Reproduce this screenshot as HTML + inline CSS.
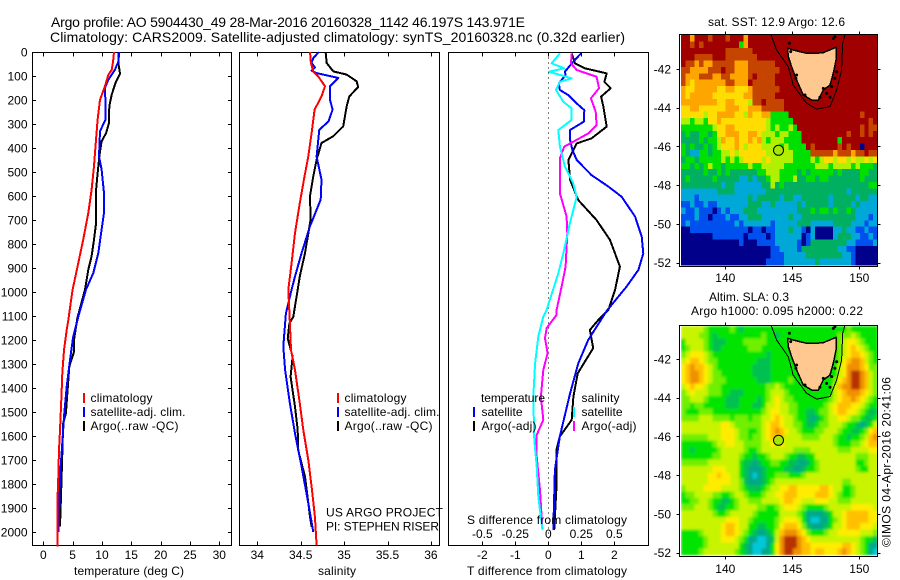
<!DOCTYPE html>
<html>
<head>
<meta charset="utf-8">
<title>Argo profile</title>
<style>
html,body{margin:0;padding:0;background:#fff;}
svg{display:block;font-family:"Liberation Sans",sans-serif;fill:#000;}
text{font-size:12px;}
</style>
</head>
<body>
<svg id="fig" xmlns="http://www.w3.org/2000/svg" width="900" height="580" viewBox="0 0 900 580">
<defs>
<filter id="slaSoften" x="-2%" y="-2%" width="104%" height="104%"><feGaussianBlur stdDeviation="1.3"/></filter>
<clipPath id="slaClip"><rect x="681" y="326" width="196.5" height="229.5"/></clipPath>
</defs>
<text x="51" y="27" style="font-size:14px" textLength="474">Argo profile: AO 5904430_49 28-Mar-2016 20160328_1142 46.197S 143.971E</text>
<text x="50" y="42" style="font-size:14px" textLength="575">Climatology: CARS2009. Satellite-adjusted climatology: synTS_20160328.nc (0.32d earlier)</text>

<g id="marks"></g>

<text x="74" y="575" textLength="110">temperature (deg C)</text>
<text x="318" y="575" textLength="38">salinity</text>
<text x="467" y="575" textLength="160">T difference from climatology</text>
<text x="467" y="524" textLength="160">S difference from climatology</text>

<g>
<rect x="83" y="393" width="2" height="10" fill="#f00"/>
<rect x="83" y="407" width="2" height="10" fill="#00f"/>
<rect x="83" y="421" width="2" height="10" fill="#000"/>
<text x="90.5" y="402" textLength="62">climatology</text>
<text x="90.5" y="416" textLength="95">satellite-adj. clim.</text>
<text x="90.5" y="430" textLength="88">Argo(..raw -QC)</text>
</g>
<g>
<rect x="337" y="393" width="2" height="10" fill="#f00"/>
<rect x="337" y="407" width="2" height="10" fill="#00f"/>
<rect x="337" y="421" width="2" height="10" fill="#000"/>
<text x="344.5" y="402" textLength="62">climatology</text>
<text x="344.5" y="416" textLength="95">satellite-adj. clim.</text>
<text x="344.5" y="430" textLength="88">Argo(..raw -QC)</text>
</g>
<text x="326" y="516.5" textLength="117">US ARGO PROJECT</text>
<text x="326" y="530.5" textLength="113">PI: STEPHEN RISER</text>

<g>
<text x="481" y="402" textLength="64">temperature</text>
<text x="481.5" y="416" textLength="41">satellite</text>
<text x="481.5" y="430" textLength="55">Argo(-adj)</text>
<text x="581.5" y="402" textLength="38">salinity</text>
<text x="581.5" y="416" textLength="41">satellite</text>
<text x="581.5" y="430" textLength="55">Argo(-adj)</text>
<rect x="473" y="407" width="2" height="10" fill="#00f"/>
<rect x="473" y="421" width="2" height="10" fill="#000"/>
<rect x="573" y="407" width="2" height="10" fill="#0ff"/>
<rect x="573" y="421" width="2" height="10" fill="#f0f"/>
</g>

<text x="708" y="26" textLength="137">sat. SST: 12.9 Argo: 12.6</text>
<text x="709" y="301" textLength="80">Altim. SLA: 0.3</text>
<text x="691" y="315" textLength="172">Argo h1000: 0.095 h2000: 0.22</text>
<text transform="translate(890.5,547) rotate(-90)" textLength="170">©IMOS 04-Apr-2016 20:41:06</text>
</svg>

<script>
const depthTicks = [0,100,200,300,400,500,600,700,800,900,1000,1100,1200,1300,1400,1500,1600,1700,1800,1900,2000];
const tempTicks = [0,5,10,15,20,25,30];
const salTicks = [34,34.5,35,35.5,36];
const salTickLabels = ["34","34.5","35","35.5","36"];
const tDiffTicks = [-2,-1,0,1,2];
const sDiffTicks = [-0.5,-0.25,0,0.25,0.5];
const sDiffTickLabels = ["-0.5","-0.25","0","0.25","0.5"];
const lonTicks = [140,145,150];
const latTicks = [42,44,46,48,50,52];

const tempClimDepth = [0,39,74,94,143,199,282,393,476,574,671,782,879,990,1117,1158,1242,1339,1408,1478,1575,1658,1769,1853,2061];
const tempClim = [12.05,11.9,11.65,11.1,10.5,9.66,9.26,8.9,8.64,8.24,7.67,6.8,5.97,5.0,4.26,3.98,3.52,3.24,3.13,3.01,2.84,2.67,2.56,2.44,2.44];
const tempSatDepth = [0,39,74,115,150,213,282,330,435,490,588,671,740,838,921,990,1103,1186,1283,1394,1519,1630,1769,1894,2000];
const tempSat = [12.95,12.8,12.2,11.1,10.5,10.6,10.6,9.66,9.5,9.94,10.34,10.34,9.94,9.38,8.52,7.27,5.97,5.1,4.55,3.98,3.52,3.24,2.84,2.73,2.6];
const tempArgoDepth = [0,46,90,129,178,226,296,338,372,435,518,574,713,782,851,907,990,1110,1200,1249,1311,1506,1547,1811,1978];
const tempArgo = [12.8,12.8,13.07,12.3,11.65,11.25,11.2,10.7,9.94,9.55,9.2,9,9,8.64,8.24,7.67,7.1,5.8,5.23,5.23,4.43,3.86,3.4,3.07,2.84];

const salClimDepth = [0,46,81,101,143,185,240,338,435,532,629,754,879,990,1131,1242,1325,1464,1575,1700,1811,1936,2055];
const salClim = [34.607,34.618,34.645,34.7,34.78,34.74,34.66,34.626,34.587,34.537,34.49,34.434,34.395,34.357,34.376,34.388,34.434,34.49,34.53,34.587,34.626,34.664,34.683];
const salSatDepth = [0,25,46,64,78,88,108,143,199,240,289,324,435,532,615,726,838,935,990,1089,1131,1228,1325,1464,1589,1728,1880,2000];
const salSat = [34.71,34.645,34.626,34.664,34.626,34.683,34.933,34.837,34.837,34.868,34.82,34.714,34.683,34.74,34.73,34.607,34.51,34.434,34.395,34.33,34.32,34.3,34.32,34.376,34.434,34.51,34.587,34.645];
const salArgoDepth = [0,46,81,94,122,146,185,226,310,351,379,449,518,601,699,838,935,990,1103,1131,1193,1269,1353,1478,1575,1658,1769,1936,1978];
const salArgo = [34.787,34.8,34.875,35.03,35.144,35.163,35.06,35.03,34.99,34.875,34.74,34.683,34.645,34.607,34.614,34.55,34.49,34.465,34.415,34.37,34.35,34.407,34.384,34.434,34.465,34.47,34.55,34.607,34.626];

const diffTSatDepth = [6,40,82,96,131,158,179,214,242,290,325,367,408,450,513,561,603,686,769,839,908,978,1075,1089,1200,1297,1422,1602,1741,1991];
const diffTSat = [0.99,0.76,0.5,0.525,0.32,0.35,0.6,0.86,1.09,1.08,0.66,0.66,0.73,0.86,1.31,1.82,2.22,2.63,2.83,2.88,2.73,2.37,1.79,1.72,1.21,0.91,0.66,0.35,0.2,0.15];
const diffTArgoDepth = [6,47,68,89,124,151,186,228,311,360,381,450,533,617,700,783,894,992,1075,1116,1158,1234,1290,1339,1436,1533,1602,1658,1811,1991];
const diffTArgo = [0.71,0.81,1.11,1.77,1.7,1.89,1.6,1.67,1.77,1.31,0.86,0.61,0.66,0.91,1.46,1.87,2.17,2.02,1.82,1.52,1.26,1.36,1.11,0.89,0.76,0.71,0.35,0.25,0.25,0.18];
const diffSSatDepth = [6,47,68,82,110,124,158,207,235,283,325,394,478,547,603,714,839,922,1075,1102,1186,1297,1436,1616,1727,1852,1991];
const diffSSat = [0.088,0.025,0.121,0.005,0.177,0.088,0.058,0.114,0.177,0.177,0.076,0.088,0.126,0.189,0.215,0.164,0.114,0.076,-0.013,-0.038,-0.076,-0.1,-0.114,-0.106,-0.088,-0.076,-0.045];
const diffSArgoDepth = [6,47,75,103,151,193,249,304,339,374,394,443,589,686,756,894,978,1075,1095,1151,1193,1255,1325,1436,1533,1596,1686,1825,1991];
const diffSArgo = [0.177,0.172,0.215,0.366,0.384,0.323,0.359,0.366,0.303,0.189,0.121,0.088,0.088,0.139,0.144,0.131,0.101,0.063,0.063,-0.013,-0.025,-0.005,-0.038,-0.056,-0.038,-0.088,-0.088,-0.063,-0.045];

const coastLon = [144.65,145.07,146.07,146.69,147.31,148.26,148.26,148.06,147.81,147.31,146.94,146.44,145.82,145.32,144.95,144.7];
const coastLat = [40.93,41.02,41.19,41.19,41.16,40.88,41.54,42.22,42.83,43.08,43.6,43.6,43.34,42.57,41.88,41.36];
const shelfLon = [143.41,143.83,144.7,145.07,146.07,146.82,147.81,148.31,148.68,148.76,148.93];
const shelfLat = [40.24,41.02,41.88,42.83,43.77,44.07,43.94,43.08,42.05,40.67,40.24];
const speckLon = [144.78,144.88,145.32,145.27,145.95,147.31,147.56,147.81,147.06,148.06,148.18,148.31,148.18,147.94];
const speckLat = [40.67,41.1,42.31,42.48,43.34,43.0,43.26,43.46,43.46,40.42,40.33,42.14,42.48,42.91];
const profileLon = [143.971];
const profileLat = [46.197];

const sstColors = ["#00008b","#0050f0","#00a8d8","#00b060","#00e000","#b0f000","#ffdd00","#ffa500","#c44400","#a00000"];
const slaColors = ["#00c8d8","#00a888","#00c050","#00e400","#70f000","#c8f400","#ffec00","#ffc000","#f09000","#b83000"];

const sstGrid = [
[9,9,7,9,9,9,8,9,9,9,8,9,9,9,7,9,9,9,9,9,9,9,9,9,9,9,9,9,9,9,9,9,9,9,9,9,9,9,9,9,9,9,9,9],
[9,9,8,9,8,9,9,9,9,9,9,9,9,4,7,9,9,9,9,9,9,9,9,9,9,9,9,9,9,9,9,9,9,9,9,9,9,9,9,9,9,9,9,9],
[9,9,9,9,9,9,9,9,9,9,8,8,8,8,8,8,9,9,9,9,9,9,9,9,9,9,9,9,9,9,9,9,9,9,9,9,9,9,9,9,9,9,9,9],
[9,9,9,8,8,8,8,9,9,9,8,8,8,8,8,8,8,9,9,9,9,9,9,9,9,9,9,9,9,9,9,9,9,9,9,9,9,9,9,9,9,9,9,9],
[9,8,8,7,8,7,7,8,8,8,8,8,7,7,7,8,8,8,8,8,8,9,9,9,9,9,9,9,9,9,9,9,9,9,9,9,9,9,9,9,9,9,9,9],
[8,8,7,7,7,7,8,8,8,9,8,8,7,7,7,8,8,8,8,8,8,8,9,9,9,9,9,9,9,9,9,9,9,9,9,9,9,9,9,9,9,9,9,9],
[8,7,7,7,8,8,8,7,7,8,8,7,7,7,7,8,9,8,8,8,8,9,9,9,9,9,9,9,9,9,9,9,9,9,9,9,9,9,9,9,9,9,9,9],
[8,7,6,7,7,7,7,7,7,7,8,8,7,7,7,9,8,8,8,8,8,9,9,9,9,9,9,9,9,9,9,9,9,9,9,9,9,9,9,9,9,9,9,9],
[7,6,6,7,7,7,7,7,6,6,7,7,6,6,6,7,8,8,8,8,8,8,9,9,9,9,9,9,9,9,9,9,9,9,9,9,9,9,9,9,9,9,9,9],
[7,6,7,7,7,7,7,6,6,6,6,6,6,6,7,7,8,8,8,8,8,9,9,9,9,9,9,9,9,9,9,9,9,9,9,9,9,9,9,9,9,9,9,9],
[7,7,7,7,7,7,7,7,6,6,7,7,6,6,6,5,8,8,9,8,8,8,8,9,9,9,9,9,9,9,9,9,9,9,9,9,9,9,9,9,9,9,9,9],
[6,6,7,7,6,6,6,6,6,6,7,7,7,6,6,7,7,7,8,8,8,8,8,9,9,9,9,9,9,9,9,9,9,9,9,9,9,9,9,9,9,9,9,9],
[6,6,6,6,6,5,6,6,7,7,7,7,6,6,5,7,6,6,7,7,4,4,4,4,9,9,9,9,9,9,9,9,9,9,9,9,9,9,9,9,8,9,9,9],
[5,5,4,5,5,4,6,6,7,6,6,6,6,6,6,6,6,6,6,5,4,4,4,4,4,9,9,9,9,9,9,9,9,9,9,9,9,9,9,9,9,9,8,9],
[4,4,4,4,4,4,4,5,6,6,7,7,6,6,6,6,6,6,6,5,4,5,4,4,5,4,9,9,9,9,9,9,9,9,9,9,9,9,9,9,8,9,8,8],
[3,4,3,3,4,4,3,4,6,6,7,7,7,6,6,7,7,6,5,5,5,4,5,5,4,4,4,9,9,9,9,9,9,9,9,9,9,8,9,9,8,9,8,9],
[3,3,3,3,4,3,4,4,5,7,6,6,7,6,6,7,6,7,5,4,5,5,5,4,4,4,4,9,9,9,9,9,9,9,9,4,9,9,9,9,9,9,9,9],
[4,3,4,3,3,4,3,4,5,6,6,6,7,6,5,6,6,6,5,5,5,5,4,5,4,4,4,4,9,8,9,9,9,9,9,8,9,8,9,9,0,9,9,9],
[4,3,2,2,4,4,3,4,4,5,5,6,5,6,6,6,6,6,6,5,5,5,5,5,5,4,4,4,4,8,8,8,8,8,7,8,8,8,7,8,8,9,8,8],
[3,4,4,3,4,4,4,4,4,5,4,5,4,5,6,6,6,6,5,6,5,5,5,5,5,4,4,4,4,5,4,5,6,6,5,6,6,5,6,5,5,6,5,6],
[4,4,3,4,3,4,5,4,4,3,4,4,4,4,4,5,4,4,5,5,5,5,5,4,4,4,4,4,4,4,5,5,5,4,5,5,5,5,4,5,4,4,4,3],
[3,3,3,3,3,4,3,3,4,3,4,3,3,3,3,3,3,4,4,5,5,5,4,4,4,4,3,4,3,4,4,4,4,4,3,4,3,3,3,3,4,4,3,3],
[3,4,3,3,3,3,3,4,3,3,3,3,3,2,2,3,2,3,3,4,5,5,4,4,4,5,3,3,4,4,3,4,4,3,3,3,3,3,3,3,4,3,3,3],
[3,3,3,3,3,3,3,3,3,2,3,3,2,2,2,2,2,2,3,3,5,3,4,3,3,3,3,3,3,3,3,3,3,3,3,3,3,3,3,3,3,3,4,4],
[2,2,2,2,2,2,2,2,3,3,3,3,2,2,2,2,2,2,2,3,3,3,3,3,3,3,3,3,3,3,3,3,3,3,3,3,3,2,3,3,3,3,3,3],
[2,2,2,1,2,2,2,2,2,2,2,2,2,2,2,3,2,3,3,3,3,3,2,3,3,2,2,3,3,3,3,3,3,2,3,3,3,3,3,2,3,3,2,2],
[1,1,2,1,1,2,1,1,2,2,2,2,2,2,2,3,3,3,2,2,3,2,2,2,2,2,3,2,3,3,3,3,3,2,3,3,3,3,2,3,2,2,2,2],
[2,1,1,2,1,1,1,0,1,2,1,2,2,2,3,3,3,2,2,2,2,2,2,2,2,2,3,3,3,4,3,4,4,3,4,3,3,4,3,2,2,2,2,2],
[1,1,1,2,1,1,0,1,1,1,2,1,1,2,2,3,3,3,2,2,2,2,2,2,3,2,2,3,3,3,3,3,3,3,3,3,3,3,3,2,2,2,1,2],
[1,2,1,1,1,1,1,1,1,1,1,1,2,1,2,2,2,2,2,2,1,2,2,2,2,2,3,3,3,2,2,2,2,2,3,3,3,3,2,2,2,1,2,2],
[0,0,1,1,1,1,1,1,1,1,1,1,1,1,1,0,1,1,0,1,1,2,2,2,3,2,2,1,0,2,0,0,0,0,2,2,3,2,2,1,1,2,1,1],
[0,0,0,0,0,0,0,1,1,1,1,1,1,1,0,1,1,1,1,0,1,2,2,2,2,2,2,0,1,2,0,0,0,0,2,3,3,3,2,2,1,1,2,1],
[0,0,0,0,0,0,0,0,0,0,0,0,0,1,0,0,0,1,1,1,1,2,2,2,2,2,1,0,1,3,3,3,3,3,3,3,3,2,2,1,1,1,1,2],
[0,0,0,0,0,0,0,0,0,0,0,0,0,0,0,0,0,0,0,0,1,1,2,2,2,2,1,3,3,3,3,3,3,3,3,2,2,1,1,0,0,0,0,0],
[0,0,0,0,0,0,0,0,0,0,0,0,0,0,0,0,0,0,0,0,1,1,1,2,2,2,2,2,3,3,3,3,3,3,3,3,2,2,1,0,0,0,0,0],
[0,0,0,0,0,0,0,0,0,0,0,0,0,0,0,0,0,0,0,1,1,1,1,2,2,2,2,2,2,2,3,2,2,2,2,2,2,2,1,0,0,0,0,0]
];

const slaGrid = [
[5,5,5,5,5,4,3,3,3,3,3,4,3,2,3,3,3,3,3,3,3,3,3,3,3,3,3,3,3,3,3,3,3,3,3,3,3,4,3,3,3,3,3,3],
[5,5,5,5,4,4,3,2,3,3,3,3,3,3,3,3,3,3,4,3,3,2,3,3,3,3,3,3,3,3,3,3,3,3,3,4,4,4,5,4,3,3,3,3],
[3,5,5,5,5,4,3,2,2,2,3,3,3,3,4,4,4,4,4,3,3,3,3,3,3,3,3,3,3,3,3,3,3,3,3,4,5,6,6,5,4,3,3,3],
[3,4,5,5,5,4,3,2,2,3,3,3,3,3,3,4,4,4,3,3,3,3,3,3,3,3,3,3,3,3,3,3,3,3,3,4,5,6,7,6,5,4,3,3],
[4,5,6,6,6,5,4,3,3,3,3,3,3,3,3,3,3,3,3,2,3,3,3,3,3,3,3,3,3,3,3,3,3,3,3,4,5,6,7,7,6,5,4,3],
[5,6,7,7,6,5,4,4,3,3,3,3,3,3,3,3,3,2,2,2,3,3,3,3,3,3,3,3,3,3,3,3,3,3,3,4,6,7,8,8,7,5,4,3],
[6,7,8,7,7,6,5,4,3,3,3,3,3,3,3,3,2,2,2,2,3,3,3,3,3,3,3,3,3,3,3,3,3,3,3,5,6,8,8,8,7,6,4,4],
[6,7,8,8,7,6,5,4,4,3,3,3,3,3,3,3,2,2,2,2,3,3,3,3,3,3,3,3,3,3,3,3,3,3,3,5,6,8,9,9,8,7,5,4],
[6,7,8,8,7,6,5,4,4,4,3,3,3,3,3,3,3,2,2,2,3,3,3,3,4,3,3,3,3,3,3,3,3,3,4,6,7,8,9,9,8,7,5,4],
[5,6,7,6,6,5,4,4,4,3,3,3,3,3,3,3,3,3,3,4,4,5,4,3,3,3,3,3,3,3,3,3,3,3,5,7,8,8,9,9,8,7,5,4],
[4,5,6,5,5,5,4,4,4,3,3,2,2,2,3,3,3,3,3,4,5,5,5,4,3,3,3,3,3,3,3,3,3,3,5,6,7,8,8,8,7,6,5,4],
[4,4,5,5,5,4,3,3,3,3,2,2,2,3,3,3,3,2,3,4,5,6,5,4,4,3,3,3,3,3,3,3,3,4,5,6,7,7,8,7,6,5,4,3],
[4,4,3,4,4,3,3,3,3,3,2,2,2,3,3,3,2,2,3,5,5,6,5,5,4,4,3,3,3,3,3,3,4,5,6,7,7,7,6,6,5,4,3,3],
[4,3,3,3,4,4,4,3,3,3,3,3,3,3,3,3,3,3,4,5,6,6,5,5,4,4,3,3,2,2,3,4,4,5,6,7,7,6,6,5,4,3,2,2],
[4,4,4,4,5,5,5,4,4,4,4,3,4,4,4,3,4,4,5,5,6,7,6,5,5,4,3,3,2,1,2,3,4,5,5,6,6,5,4,4,3,2,2,3],
[5,5,5,5,5,5,5,5,5,6,6,5,4,4,4,4,4,4,5,6,7,7,6,5,5,4,4,3,2,2,3,4,4,5,5,5,4,3,3,2,1,2,3,5],
[5,5,5,5,5,5,5,5,5,6,6,6,5,4,4,3,3,4,5,6,7,8,7,6,5,5,4,3,3,3,4,4,5,5,5,4,3,3,2,2,3,4,6,7],
[4,4,4,4,4,4,5,5,5,6,6,6,5,4,4,3,4,4,5,6,7,7,7,5,5,5,5,4,4,4,4,5,5,5,4,3,3,2,3,3,4,5,7,8],
[3,3,3,3,3,3,3,4,5,5,6,6,5,5,4,4,4,4,5,5,6,5,6,5,5,5,5,5,5,5,5,5,5,5,4,3,3,3,4,4,5,6,7,7],
[3,3,2,3,3,3,3,3,4,5,5,5,5,5,4,3,3,4,5,5,5,5,5,5,5,4,4,4,4,5,5,5,5,5,5,4,4,4,5,5,5,5,6,6],
[3,3,3,3,3,3,3,4,4,5,5,5,5,4,3,3,2,3,3,4,5,5,5,4,3,3,2,2,3,3,5,5,5,5,5,5,5,5,5,4,4,4,5,5],
[4,4,4,4,4,4,5,5,5,5,5,5,5,3,2,2,1,2,3,3,4,4,3,3,2,2,1,1,2,3,4,5,5,5,5,5,5,5,5,3,3,4,5,5],
[5,5,5,5,5,5,5,6,6,6,5,5,5,3,2,1,1,1,2,3,3,3,3,2,2,1,1,2,3,3,4,5,5,5,5,5,5,5,5,4,3,3,5,5],
[5,5,5,5,5,5,6,6,7,6,6,5,5,3,2,1,0,1,2,3,3,4,4,4,3,3,3,4,5,5,5,5,5,5,5,5,5,5,5,5,5,5,5,5],
[5,5,5,5,5,5,6,6,6,6,6,5,5,4,2,1,1,1,2,3,4,5,5,5,5,5,5,5,5,5,5,5,5,5,5,5,4,4,5,5,5,5,5,5],
[4,5,5,5,5,6,6,6,6,5,5,5,5,4,3,2,2,2,3,4,5,5,6,6,7,7,6,6,6,6,6,7,7,6,5,5,3,3,4,5,5,5,5,5],
[3,4,4,5,5,5,5,4,4,3,3,4,5,5,4,3,3,3,4,5,5,6,6,7,7,7,6,6,6,6,7,7,7,6,5,4,3,3,4,5,5,5,5,5],
[3,3,4,4,5,5,4,3,3,2,2,3,4,5,5,4,4,4,5,5,5,5,6,7,7,6,6,5,5,5,6,6,6,5,5,4,4,4,5,5,5,5,5,5],
[4,4,4,5,5,5,4,3,2,2,3,3,4,5,5,5,5,4,4,3,3,4,5,6,6,6,5,4,3,3,3,3,4,5,5,5,5,5,6,6,6,6,6,5],
[5,5,5,5,5,5,5,4,3,3,4,5,5,5,5,5,4,3,3,3,3,3,5,5,5,5,4,3,1,1,1,1,2,3,5,5,6,7,7,7,7,7,6,6],
[5,5,5,5,5,5,5,5,5,5,6,6,6,5,5,4,3,3,3,3,3,4,5,6,6,6,5,3,1,0,0,1,1,3,4,5,6,7,7,7,7,7,6,6],
[5,5,5,5,5,5,5,5,5,6,7,7,6,5,5,3,3,2,2,3,3,4,6,7,7,7,6,4,2,1,1,1,2,3,5,5,6,7,7,7,6,6,6,5],
[3,3,3,3,4,5,5,5,5,6,7,7,6,5,4,3,2,1,1,2,3,5,7,8,8,8,7,6,4,3,3,3,4,5,5,6,6,6,6,6,5,5,5,4],
[3,3,3,3,3,4,5,5,5,6,6,6,5,4,3,1,1,0,0,1,2,5,8,9,9,9,8,7,6,5,5,5,5,5,5,5,5,5,5,5,4,3,3,2],
[3,3,3,3,3,4,5,5,5,5,5,5,5,3,2,1,0,0,0,1,3,6,8,9,9,9,8,7,7,6,6,6,6,6,6,6,7,7,6,5,4,3,1,1],
[3,3,3,3,4,5,5,5,5,5,5,5,4,3,2,1,0,0,1,1,3,6,8,9,9,8,8,7,7,6,7,7,6,6,6,7,8,7,6,5,4,3,1,0]
];

const NS = 'http://www.w3.org/2000/svg';
const root = document.getElementById('marks');
function mk(tag, attrs, parent) {
  const e = document.createElementNS(NS, tag);
  for (const k in attrs) e.setAttribute(k, attrs[k]);
  (parent || root).appendChild(e);
  return e;
}

/* axis functions */
const yDepth = d => 52 + d * 0.24;
const xTemp = t => 43.3 + t * 5.867;
const xSal = s => 257.3 + (s - 34) * 86.8;
const xTDiff = t => 548.3 + t * 33;
const xSDiff = s => 548.3 + s * 132;

const panels = [
  {x0:32.5, x1:231.5, name:'temperature-panel'},
  {x0:239.5, x1:439.5, name:'salinity-panel'},
  {x0:448.5, x1:648.5, name:'difference-panel'}
];
const PY0 = 52.5, PY1 = 545.5;

function tickLine(x1, y1, x2, y2, name) {
  const l = mk('line', {x1, y1, x2, y2, stroke:'#000', 'stroke-width':1, 'shape-rendering':'crispEdges'});
  
  
}
function label(x, y, str, anchor, name) {
  const t = mk('text', {x, y, 'text-anchor':anchor});
  t.textContent = str;
  
  
}
function polyline(xs, ys, color, width, name, closed, fill) {
  const pts = xs.map((x, i) => x.toFixed(1) + ',' + ys[i].toFixed(1)).join(' ');
  const p = mk(closed ? 'polygon' : 'polyline', {points:pts, fill:fill || 'none', stroke:color, 'stroke-width':width, 'stroke-linejoin':'round', 'shape-rendering':'crispEdges'});
  
  
}

/* profile panels: frames */
panels.forEach(p => {
  const f = mk('rect', {x:p.x0, y:PY0, width:p.x1-p.x0, height:PY1-PY0, fill:'#fff', stroke:'#000', 'stroke-width':1, 'shape-rendering':'crispEdges'});
  
  
});

/* depth ticks on temperature panel */
depthTicks.forEach(d => {
  const y = Math.round(yDepth(d)) + 0.5;
  tickLine(32.5, y, 36, y, 'depth-tick-left');
  tickLine(228, y, 231.5, y, 'depth-tick-right');
  label(27.5, yDepth(d) + 4.5, String(d), 'end', 'depth-tick-label');
});
tempTicks.forEach(t => {
  const x = Math.round(xTemp(t)) + 0.5;
  tickLine(x, PY0, x, PY0 + 4, 'temperature-tick-top');
  tickLine(x, PY1 - 4, x, PY1, 'temperature-tick-bottom');
  label(xTemp(t), 559, String(t), 'middle', 'temperature-tick-label');
});
salTicks.forEach((s, i) => {
  const x = Math.round(xSal(s)) + 0.5;
  tickLine(x, PY0, x, PY0 + 4, 'salinity-tick-top');
  tickLine(x, PY1 - 4, x, PY1, 'salinity-tick-bottom');
  label(xSal(s), 559, salTickLabels[i], 'middle', 'salinity-tick-label');
});
tDiffTicks.forEach(t => {
  const x = Math.round(xTDiff(t)) + 0.5;
  tickLine(x, PY0, x, PY0 + 4, 'difference-tick-top');
  tickLine(x, PY1 - 4, x, PY1, 'difference-tick-bottom');
  label(xTDiff(t), 559, String(t), 'middle', 't-difference-tick-label');
});
sDiffTicks.forEach((s, i) => {
  label(xSDiff(s), 538, sDiffTickLabels[i], 'middle', 's-difference-tick-label');
});

/* zero line */
const zeroLine = mk('line', {x1:Math.round(xTDiff(0))+0.5, y1:PY0, x2:Math.round(xTDiff(0))+0.5, y2:PY1, stroke:'#000', 'stroke-width':1, 'stroke-dasharray':'1 4', 'shape-rendering':'crispEdges'});



/* profile series */
polyline(tempArgo.map(xTemp), tempArgoDepth.map(yDepth), '#000', 2, 'temperature-argo-line');
polyline(tempSat.map(xTemp), tempSatDepth.map(yDepth), '#00f', 2, 'temperature-satellite-line');
polyline(tempClim.map(xTemp), tempClimDepth.map(yDepth), '#f00', 2, 'temperature-climatology-line');
polyline(salArgo.map(xSal), salArgoDepth.map(yDepth), '#000', 2, 'salinity-argo-line');
polyline(salSat.map(xSal), salSatDepth.map(yDepth), '#00f', 2, 'salinity-satellite-line');
polyline(salClim.map(xSal), salClimDepth.map(yDepth), '#f00', 2, 'salinity-climatology-line');
polyline(diffTArgo.map(xTDiff), diffTArgoDepth.map(yDepth), '#000', 2, 't-difference-argo-line');
polyline(diffTSat.map(xTDiff), diffTSatDepth.map(yDepth), '#00f', 2, 't-difference-satellite-line');
polyline(diffSArgo.map(xSDiff), diffSArgoDepth.map(yDepth), '#f0f', 2, 's-difference-argo-line');
polyline(diffSSat.map(xSDiff), diffSSatDepth.map(yDepth), '#0ff', 2, 's-difference-satellite-line');

/* maps */
const xLon = lon => 725.3 + (lon - 140) * 13.4;
const CELLS_W = 4.47, LEFT = 681;

function drawMap(cfg) {
  const yLat = lat => cfg.y42 + (lat - 42) * 19.37;
  const cellH = (cfg.y1 - cfg.y0) / cfg.grid.length;
  const clip = mk('g', cfg.clip ? {'clip-path':cfg.clip} : {});
  
  
  const g = mk('g', cfg.filter ? {filter:cfg.filter} : {}, clip);
  
  
  cfg.grid.forEach((row, r) => {
    row.forEach((v, c) => {
      const cell = mk('rect', {x:(LEFT + c * CELLS_W).toFixed(2), y:(cfg.y0 + r * cellH).toFixed(2), width:(CELLS_W + 0.3).toFixed(2), height:(cellH + 0.3).toFixed(2), fill:cfg.colors[v], 'shape-rendering':'crispEdges'}, g);
      
      
    });
  });
  polyline(shelfLon.map(xLon), shelfLat.map(yLat), '#000', 1, cfg.name + '-shelf-contour');
  polyline(coastLon.map(xLon), coastLat.map(yLat), '#000', 1.5, cfg.name + '-tasmania', true, '#ffc890');
  speckLon.forEach((lon, i) => {
    const s = mk('circle', {cx:xLon(lon).toFixed(1), cy:yLat(speckLat[i]).toFixed(1), r:1.5, fill:'#000'});
    
    
  });

  const frame = mk('rect', {x:679.5, y:cfg.top, width:198, height:cfg.bottom - cfg.top, fill:'none', stroke:'#000', 'stroke-width':1, 'shape-rendering':'crispEdges'});
  
  

  lonTicks.forEach(lon => {
    const x = Math.round(xLon(lon)) + 0.5;
    tickLine(x, cfg.top - 3, x, cfg.top, 'longitude-tick-top');
    tickLine(x, cfg.bottom, x, cfg.bottom + 3, 'longitude-tick-bottom');
    label(xLon(lon), cfg.lonLabelY, String(lon), 'middle', 'longitude-tick-label');
  });
  latTicks.forEach(lat => {
    const y = Math.round(yLat(lat)) + 0.5;
    tickLine(676.5, y, 679.5, y, 'latitude-tick-left');
    tickLine(877.5, y, 880.5, y, 'latitude-tick-right');
    label(671, yLat(lat) + 4.5, String(-lat), 'end', 'latitude-tick-label');
  });
  const marker = mk('circle', {cx:xLon(profileLon[0]).toFixed(1), cy:yLat(profileLat[0]).toFixed(1), r:5, fill:cfg.markerFill, stroke:'#000', 'stroke-width':1});
  
  
}

drawMap({name:'sst-map', grid:sstGrid, colors:sstColors, y0:35, y1:265, top:34.5, bottom:266.5, y42:69, lonLabelY:282, markerFill:'#a8e800'});
drawMap({name:'sla-map', grid:slaGrid, colors:slaColors, y0:326, y1:555, top:325.5, bottom:556.5, y42:359, lonLabelY:573, markerFill:'#a8e800', filter:'url(#slaSoften)', clip:'url(#slaClip)'});
</script>
</body>
</html>
